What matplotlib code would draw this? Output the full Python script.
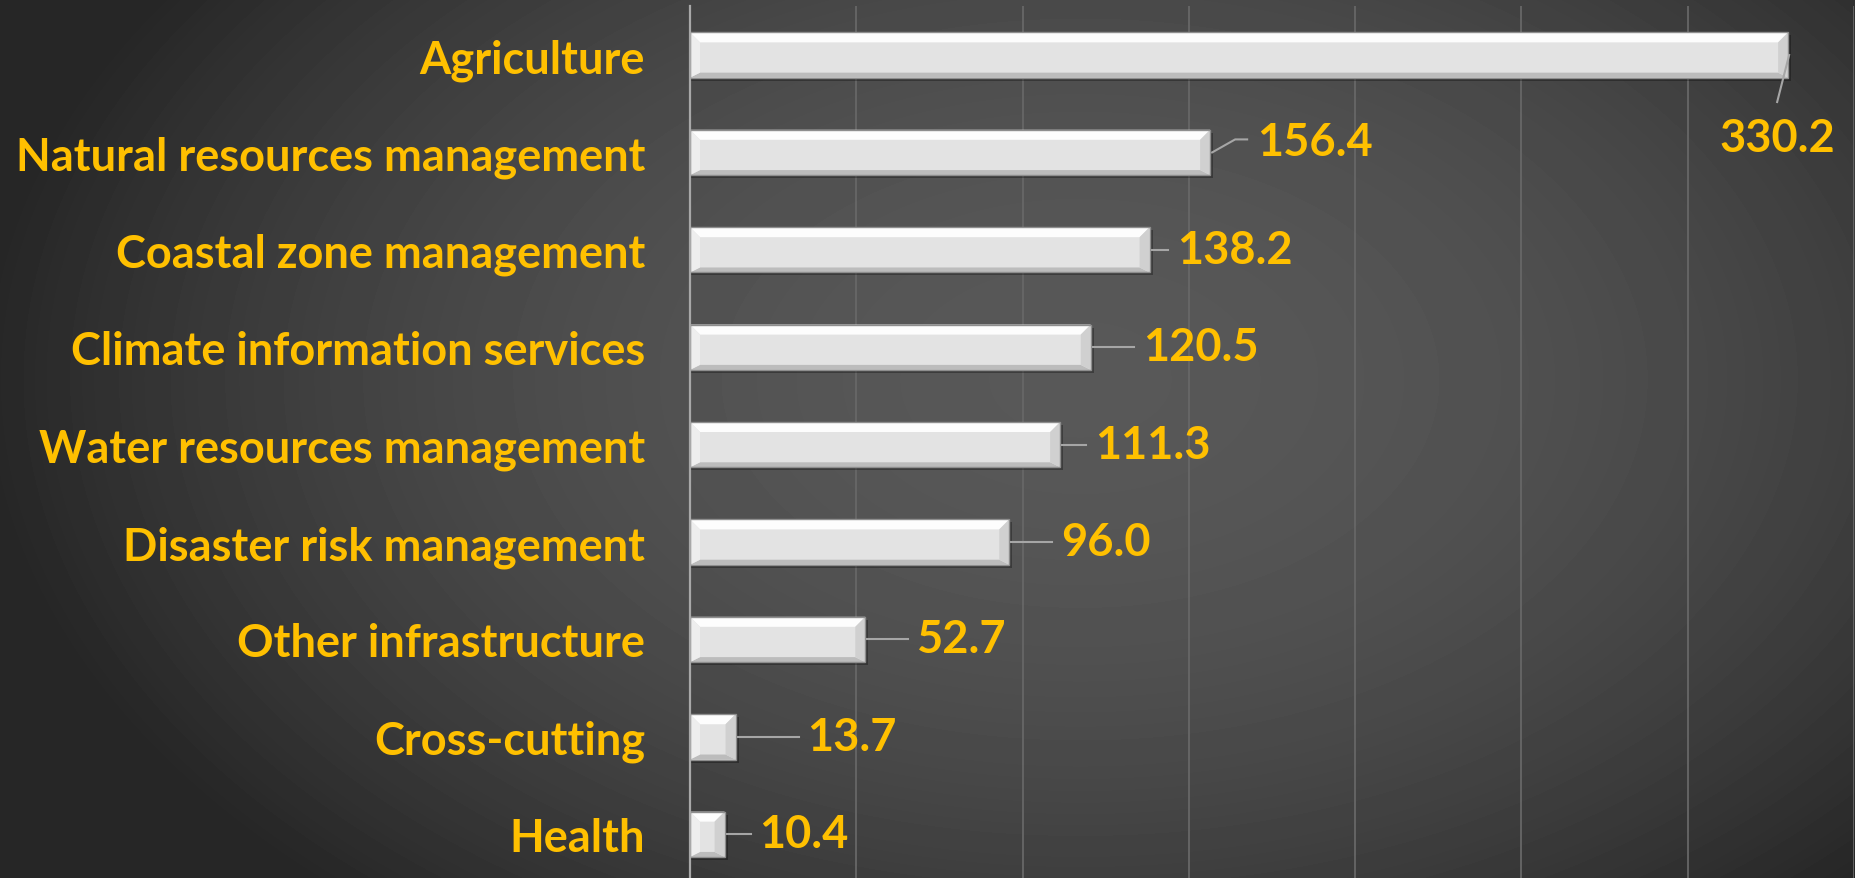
import numpy as np
import matplotlib
matplotlib.use("Agg")
import matplotlib.pyplot as plt
from matplotlib.patches import Polygon, Rectangle

categories = [
    "Agriculture",
    "Natural resources management",
    "Coastal zone management",
    "Climate information services",
    "Water resources management",
    "Disaster risk management",
    "Other infrastructure",
    "Cross-cutting",
    "Health",
]
values = [330.2, 156.4, 138.2, 120.5, 111.3, 96.0, 52.7, 13.7, 10.4]

# label offsets from the bar end, in pixels (dx, dy; dy positive = down)
label_offsets = [(-11, 83), (47, -10), (27, 0), (52, 0), (35, 0),
                 (52, 0), (52, 0), (72, 0), (35, 0)]

W, H = 1855, 879
YELLOW = "#FFC000"
FONT = "Lato"
FS = 32.5

fig = plt.figure(figsize=(W / 100, H / 100), dpi=100)

# background: soft radial gradient
bg = fig.add_axes([0, 0, 1, 1], zorder=-10)
xx, yy = np.meshgrid(np.arange(W), np.arange(H))
r2 = ((xx - 1080) / 1100.0) ** 2 + ((yy - 380) / 700.0) ** 2
shade = np.clip(88 - 50 * r2, 38, 88) / 255.0
bg.imshow(shade, cmap="gray", vmin=0, vmax=1, extent=[0, 1, 0, 1],
          aspect="auto", interpolation="bilinear")
bg.axis("off")

ax_l, ax_r = 690 / W, 1854 / W
ax_top, ax_bot = 7.3, 884
ax = fig.add_axes([ax_l, 1 - ax_bot / H, ax_r - ax_l, (ax_bot - ax_top) / H])
ax.set_facecolor("none")
ax.set_xlim(0, 350)
ax.set_ylim(len(categories) - 0.5, -0.5)

ax_w_px = (ax_r - ax_l) * W
ax_h_px = ax_bot - ax_top
px_x = 350 / ax_w_px
px_y = len(categories) / ax_h_px

ax.set_xticks(np.arange(0, 351, 50))
ax.xaxis.grid(True, color="#676767", lw=1.3)
ax.set_axisbelow(True)
ax.tick_params(axis="x", length=0, labelbottom=False)
ax.tick_params(axis="y", length=0, pad=45 * 0.72)
ax.set_yticks(range(len(categories)))
ax.set_yticklabels(categories, fontsize=FS, fontweight="bold",
                   color=YELLOW, family=FONT)
for s in ["top", "right", "bottom"]:
    ax.spines[s].set_visible(False)
ax.spines["left"].set_color("#a8a8a8")
ax.spines["left"].set_linewidth(1.6)
ax.spines["left"].set_zorder(6)

bar_h = 0.465
for i, v in enumerate(values):
    yt, yb = i - bar_h / 2, i + bar_h / 2
    bx = min(10 * px_x, v / 2)
    bt = 10 * px_y
    bbm = 5 * px_y
    # shadow
    ax.add_patch(Rectangle((0, yt + 3 * px_y), v + 3 * px_x, bar_h,
                           color="black", alpha=0.3, lw=0, zorder=2))
    # face + bevel
    ax.add_patch(Rectangle((0, yt), v, bar_h, facecolor="#e3e3e3",
                           edgecolor="none", zorder=3))
    ax.add_patch(Polygon([(0, yt), (v, yt), (v - bx, yt + bt), (bx, yt + bt)],
                         closed=True, facecolor="#fdfdfd", edgecolor="none", zorder=4))
    ax.add_patch(Polygon([(0, yb), (v, yb), (v - bx, yb - bbm), (bx, yb - bbm)],
                         closed=True, facecolor="#bcbcbc", edgecolor="none", zorder=4))
    ax.add_patch(Polygon([(0, yt), (bx, yt + bt), (bx, yb - bbm), (0, yb)],
                         closed=True, facecolor="#eeeeee", edgecolor="none", zorder=4))
    ax.add_patch(Polygon([(v, yt), (v - bx, yt + bt), (v - bx, yb - bbm), (v, yb)],
                         closed=True, facecolor="#d0d0d0", edgecolor="none", zorder=4))
    ax.add_patch(Rectangle((0, yt), v, bar_h, facecolor="none",
                           edgecolor="#8e8e8e", lw=1.0, zorder=5))

    # data labels with leader lines
    dx, dy = label_offsets[i]
    lx = v + dx * px_x
    ly = i + dy * px_y
    if dy > 40:
        ax.text(lx, ly, f"{v:.1f}", ha="center", va="center", fontsize=FS,
                fontweight="bold", color=YELLOW, family=FONT, zorder=7)
        ax.plot([v + 1 * px_x, lx], [i, ly - 36 * px_y], color="#a6a6a6",
                lw=1.5, zorder=6)
    else:
        ax.text(lx, ly, f"{v:.1f}", ha="left", va="center", fontsize=FS,
                fontweight="bold", color=YELLOW, family=FONT, zorder=7)
        if dy == 0:
            ax.plot([v + 2 * px_x, lx - 9 * px_x], [i, i], color="#a6a6a6",
                    lw=1.5, zorder=6)
        else:
            ax.plot([v + 2 * px_x, lx - 22 * px_x, lx - 10 * px_x],
                    [i, ly - 3 * px_y, ly - 3 * px_y], color="#a6a6a6",
                    lw=1.5, zorder=6)

fig.savefig("out.png", dpi=100)
